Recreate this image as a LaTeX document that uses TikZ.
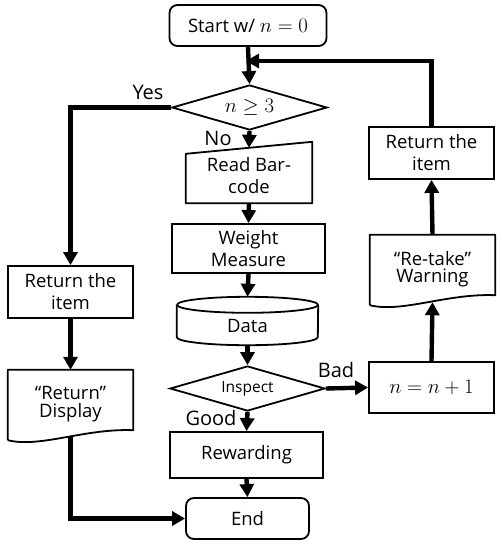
\documentclass[tikz,border=0pt]{standalone}
\usepackage{fontspec}
\setmainfont{Open Sans}
\usetikzlibrary{shapes.geometric,arrows.meta,calc}
\begin{document}
\begin{tikzpicture}[x=1pt,y=-1pt,
  txt/.style={font=\fontsize{18.5}{22}\selectfont},
  lbl/.style={font=\fontsize{20}{22}\selectfont, inner sep=0pt},
  box/.style={txt, draw, line width=1.8pt, align=center, inner sep=0pt},
  plain/.style={txt, align=center, inner sep=0pt},
  outline/.style={line width=1.8pt, line join=round},
  dec/.style={draw, line width=1.8pt, diamond, aspect=3.44, inner sep=0pt, minimum width=155pt, minimum height=45pt},
  arr/.style={line width=4.4pt, -{Triangle[length=13pt,width=14pt]}},
]
\useasboundingbox (0,0) rectangle (502,550);

\node[box, rounded corners=8pt, minimum width=157pt, minimum height=41pt] (start) at (248,25.5) {Start w/ \fontsize{21}{22}\selectfont$n=0$};
\node[dec, font=\fontsize{20}{20}\selectfont] (dec1) at (249.5,107.5) {$n\geq 3$};
\node[plain, minimum width=126pt, minimum height=55pt] (bar) at (249,175.5) {Read Bar-\\code};
\draw[outline] (bar.south west) -- ($(bar.north west)+(0,6)$) -- ($(bar.north east)+(0,-6)$) -- (bar.south east) -- cycle;
\node[box, minimum width=153pt, minimum height=49pt] (weight) at (248.5,248.5) {Weight\\Measure};
\node[plain, minimum width=141pt, minimum height=48pt] (data) at (247.5,321) {\raisebox{-11.5pt}[0pt][0pt]{Data}};
\draw[outline] ($(data.north west)+(0,8)$) -- ($(data.south west)+(0,-8)$) arc[start angle=180,end angle=360,x radius=70.5pt,y radius=8pt] -- ($(data.north east)+(0,8)$);
\draw[outline] ($(data.north)+(0,8)$) ellipse[x radius=70.5pt, y radius=8pt];
\node[dec, font=\fontsize{15.5}{18}\selectfont] (insp) at (247.5,388.5) {Inspect};
\node[box, minimum width=153pt, minimum height=46pt] (reward) at (246.5,455) {Rewarding};
\node[box, rounded corners=8pt, minimum width=123pt, minimum height=41pt] (end) at (247.5,518.5) {End};

\node[box, minimum width=125pt, minimum height=51pt, font=\fontsize{21}{22}\selectfont] (inc) at (431.5,387.5) {$n=n+1$};
\node[plain, minimum width=125pt, minimum height=70pt] (warn) at (432.5,270) {\raisebox{6pt}{\shortstack{“Re-take”\\Warning}}};
\draw[outline] (warn.south west) -- (warn.north west) -- (warn.north east) -- ($(warn.south east)+(0,-10)$) .. controls ($(warn.south west)+(77,-12)$) and ($(warn.south west)+(32,8)$) .. (warn.south west);
\node[box, minimum width=125pt, minimum height=52pt] (ret2) at (431.5,153) {Return the\\item};

\node[box, minimum width=125pt, minimum height=52pt] (ret1) at (70.5,292) {Return the\\item};
\node[plain, minimum width=125pt, minimum height=70pt] (disp) at (70.5,405) {\raisebox{6pt}{\shortstack{“Return”\\Display}}};
\draw[outline] (disp.south west) -- (disp.north west) -- (disp.north east) -- ($(disp.south east)+(0,-10)$) .. controls ($(disp.south west)+(77,-12)$) and ($(disp.south west)+(32,8)$) .. (disp.south west);

\coordinate (join) at (248,61);

\draw[arr] (start.south) -- (dec1.north);
\draw[arr] (dec1.south) -- ($(bar.north)$);
\draw[arr] (bar.south) -- (weight.north);
\draw[arr] (weight.south) -- (data.north);
\draw[arr] (data.south) -- (insp.north);
\draw[arr] (insp.south) -- (reward.north);
\draw[arr] (reward.south) -- (end.north);
\draw[arr] (insp.east) -- (inc.west);
\draw[arr] (inc.north) -- ($(warn.south)+(0,-3)$);
\draw[arr] (warn.north) -- (ret2.south);
\draw[arr, shorten >=-2pt] (ret2.north) |- (join);
\draw[arr] (dec1.west) -| (ret1.north);
\draw[arr] (ret1.south) -- (disp.north);
\draw[arr] ($(disp.south)+(0,-4)$) |- (end.west);

\node[lbl] (yes) at (148,92) {Yes};
\node[lbl] (no) at (218,138) {No};
\node[lbl] (good) at (211,418) {Good};
\node[lbl] (bad) at (336,370) {Bad};
\end{tikzpicture}
\end{document}
